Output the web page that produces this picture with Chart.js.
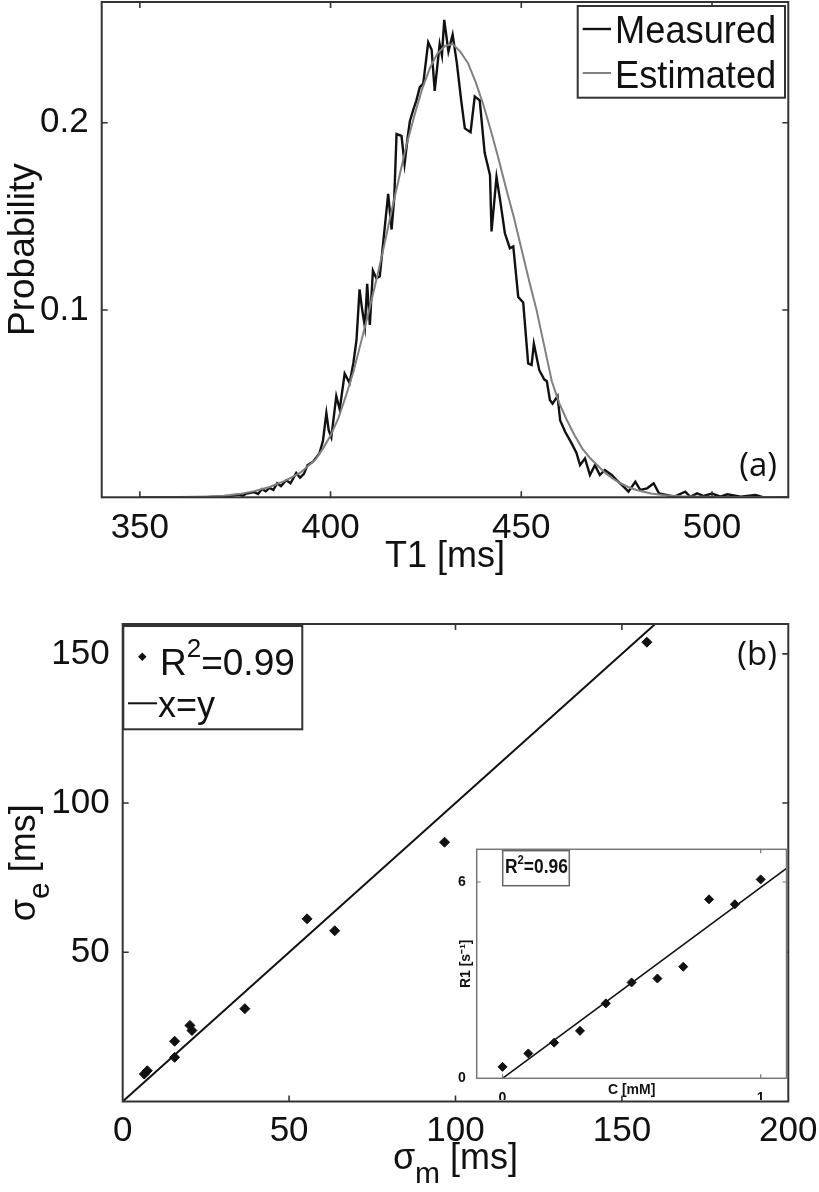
<!DOCTYPE html>
<html><head><meta charset="utf-8">
<script src="https://cdn.jsdelivr.net/npm/chart.js@4/dist/chart.umd.min.js"></script>
<style>
html,body{margin:0;padding:0;background:#fff;}
body{width:819px;height:1192px;position:relative;overflow:hidden;}
canvas{position:absolute;}
#cA{left:0;top:0;} #cB{left:0;top:580px;} #cC{left:440px;top:840px;}
</style></head><body>
<canvas id="cA" width="819" height="580"></canvas>
<canvas id="cB" width="819" height="612"></canvas>
<canvas id="cC" width="370" height="260"></canvas>
<script>
// ---------- data: panel (a) ----------
const measuredT = [
  350, 360, 368, 372, 374, 376, 377, 378, 380, 381,
  382, 383, 384, 385, 386, 387, 388.4, 389.5, 391, 392,
  393, 394, 395.4, 396.5, 397.1, 398, 398.9, 399.5, 400.2, 401.5,
  402.4, 403.7, 405, 406, 406.8, 407.6, 408.3, 409, 409.6, 410.3,
  411.1, 412, 412.9, 414, 415.1, 416, 416.7, 417.3, 418.6, 419.4,
  420.2, 420.8, 421.7, 422.5, 423.4, 424.3, 425.6, 426.5, 427.3, 428.6,
  429.2, 429.8, 430.9, 432, 433.1, 434.3, 435.2, 436.7, 437.8, 439.1,
  440.4, 441.8, 442.2, 443.5, 444.5, 445.7, 447, 447.9, 449.2, 450.5,
  451.8, 452.7, 453.3, 454.7, 456, 456.7, 457.5, 458.2, 459.5, 460.2,
  461.5, 463.2, 464.5, 465.4, 466.7, 468, 469.3, 470.6, 471.9, 473.7,
  475, 476.8, 478.1, 479.9, 481.2, 483, 484.7, 486.1, 488.3, 490,
  493, 494.3, 496.1, 497.8, 500, 502.2, 504, 507.5, 511.4, 513.6,
  520
];
const measuredP = [
  0, 0, 0.0002, 0.0004, 0.0008, 0.0015, 0.0008, 0.002, 0.0028, 0.0018,
  0.0044, 0.0032, 0.005, 0.004, 0.0075, 0.006, 0.0091, 0.0075, 0.013, 0.0105,
  0.0125, 0.0172, 0.019, 0.022, 0.0236, 0.03, 0.045, 0.036, 0.032, 0.054,
  0.047, 0.066, 0.061, 0.072, 0.084, 0.111, 0.1, 0.091, 0.114, 0.092,
  0.121, 0.117, 0.118, 0.14, 0.162, 0.143, 0.16, 0.194, 0.193, 0.178,
  0.192, 0.201, 0.207, 0.212, 0.219, 0.221, 0.243, 0.239, 0.217, 0.242,
  0.236, 0.255, 0.238, 0.247, 0.232, 0.211, 0.197, 0.195, 0.214, 0.212,
  0.184, 0.172, 0.142, 0.171, 0.158, 0.141, 0.133, 0.134, 0.107, 0.104,
  0.0715, 0.0707, 0.082, 0.068, 0.063, 0.062, 0.052, 0.05, 0.054, 0.041,
  0.035, 0.0288, 0.0235, 0.0172, 0.0208, 0.0119, 0.0172, 0.0119, 0.0146, 0.0119,
  0.0092, 0.0057, 0.003, 0.0083, 0.0039, 0.0048, 0.0075, 0.0021, 0.0012, 0.0003,
  0.003, 0.0003, 0.0021, 0.0007, 0.002, 0.0003, 0.0016, 0.0003, 0.0012, 0,
  0
];
const estimatedT = [
  350, 360, 364, 368, 372, 376, 380, 384, 388, 392,
  396, 398, 400, 402, 404, 406, 408, 410, 412, 414,
  416, 418, 420, 422, 424, 426, 428, 430, 432, 434,
  436, 438, 440, 442, 444, 446, 448, 450, 452, 454,
  456, 458, 460, 462, 464, 466, 468, 470, 472, 474,
  476, 478, 480, 484, 488, 492, 500, 510, 520
];
const estimatedP = [
  0, 0, 0.0001, 0.0003, 0.0008, 0.0017, 0.0033, 0.0055, 0.0088, 0.013,
  0.020, 0.026, 0.033, 0.042, 0.054, 0.067, 0.083, 0.099, 0.116, 0.134,
  0.153, 0.171, 0.189, 0.204, 0.218, 0.229, 0.237, 0.241, 0.242, 0.238,
  0.232, 0.222, 0.210, 0.196, 0.181, 0.165, 0.150, 0.133, 0.116, 0.100,
  0.081, 0.062, 0.050, 0.041, 0.033, 0.026, 0.021, 0.017, 0.013, 0.010,
  0.0075, 0.0055, 0.004, 0.002, 0.001, 0.0005, 0.0002, 0.0001, 0
];
const t1Ticks = [350, 400, 450, 500];
const probTicks = [0.1, 0.2];

// ---------- data: panel (b) ----------
const sigmaM = [6.5, 7.4, 15.6, 15.6, 20.2, 20.8, 36.7, 55.4, 63.7, 96.7, 157.5];
const sigmaE = [9.2, 10.3, 14.8, 20.2, 25.5, 23.8, 31.1, 61.2, 57.2, 86.9, 153.9];
const identityX = [0, 160];
const identityY = [0, 160];
const sigmaXTicks = [0, 50, 100, 150, 200];
const sigmaYTicks = [0, 50, 100, 150];

// ---------- data: inset ----------
const concC = [0, 0.1, 0.2, 0.3, 0.4, 0.5, 0.6, 0.7, 0.8, 0.9, 1.0];
const r1Values = [0.35, 0.76, 1.09, 1.45, 2.29, 2.93, 3.05, 3.41, 5.47, 5.32, 6.08];
const fitC = [0, 1.1];
const fitR1 = [0, 6.42];
const cTicks = [0, 1];
const r1Ticks = [0, 6];

const toXY = (xs, ys) => xs.map((x, i) => ({x: x, y: ys[i]}));
const FONT = "'Liberation Sans', Arial, sans-serif";
Chart.defaults.font.family = FONT;
Chart.defaults.color = '#111';

function frameTicks(id, color, width, len, tickWidth) {
  return {
    id: id,
    afterDraw(chart) {
      const {ctx, chartArea: a, scales} = chart;
      ctx.save();
      ctx.strokeStyle = color;
      ctx.lineWidth = tickWidth;
      ctx.beginPath();
      scales.x.ticks.forEach(t => {
        const p = scales.x.getPixelForValue(t.value);
        if (p < a.left + 1 || p > a.right - 1) return;
        ctx.moveTo(p, a.bottom); ctx.lineTo(p, a.bottom - len);
        ctx.moveTo(p, a.top); ctx.lineTo(p, a.top + len);
      });
      scales.y.ticks.forEach(t => {
        const p = scales.y.getPixelForValue(t.value);
        if (p < a.top + 1 || p > a.bottom - 1) return;
        ctx.moveTo(a.left, p); ctx.lineTo(a.left + len, p);
        ctx.moveTo(a.right, p); ctx.lineTo(a.right - len, p);
      });
      ctx.stroke();
      ctx.lineWidth = width;
      ctx.strokeRect(a.left, a.top, a.right - a.left, a.bottom - a.top);
      ctx.restore();
    }
  };
}
function setTicks(arr) { return s => { s.ticks = arr.map(v => ({value: v})); }; }
function fixW(w) { return s => { s.width = w; s.paddingTop = 0; s.paddingBottom = 0; s.paddingLeft = 0; s.paddingRight = 0; }; }
function fixH(h) { return s => { s.height = h; s.paddingTop = 0; s.paddingBottom = 0; s.paddingLeft = 0; s.paddingRight = 0; }; }

function condensedText(ctx, txt, x, y, sx) {
  ctx.save(); ctx.translate(x, y); ctx.scale(sx, 1); ctx.fillText(txt, 0, 0); ctx.restore();
  return ctx.measureText(txt).width * sx;
}

// ---------- chart (a) ----------
const annotA = {
  id: 'annotA',
  afterDraw(chart) {
    const ctx = chart.ctx;
    ctx.save();
    ctx.fillStyle = '#fff';
    ctx.fillRect(577.7, 6, 207.3, 91.7);
    ctx.strokeStyle = '#333'; ctx.lineWidth = 2;
    ctx.strokeRect(577.7, 6, 207.3, 91.7);
    ctx.lineWidth = 2.4; ctx.strokeStyle = '#111';
    ctx.beginPath(); ctx.moveTo(582.7, 29); ctx.lineTo(611, 29); ctx.stroke();
    ctx.lineWidth = 2; ctx.strokeStyle = '#808080';
    ctx.beginPath(); ctx.moveTo(582.7, 73); ctx.lineTo(611, 73); ctx.stroke();
    ctx.fillStyle = '#111';
    ctx.font = '39px ' + FONT;
    ctx.textBaseline = 'alphabetic';
    condensedText(ctx, 'Measured', 615, 43.3, 0.93);
    condensedText(ctx, 'Estimated', 615, 88.3, 0.93);
    ctx.font = "33px 'Open Sans', sans-serif";
    ctx.textAlign = 'right';
    ctx.fillText('(a)', 777, 476);
    ctx.restore();
  }
};

new Chart(document.getElementById('cA'), {
  type: 'scatter',
  data: {
    datasets: [
      {label: 'Measured', data: toXY(measuredT, measuredP), showLine: true, pointRadius: 0,
       borderColor: '#111', borderWidth: 2.4, order: 1},
      {label: 'Estimated', data: toXY(estimatedT, estimatedP), showLine: true, pointRadius: 0,
       borderColor: '#808080', borderWidth: 2, order: 0}
    ]
  },
  options: {
    responsive: false, animation: false,
    layout: {padding: {left: 0, top: 2, right: 30.7, bottom: 0}},
    plugins: {legend: {display: false}, tooltip: {enabled: false}},
    scales: {
      x: {type: 'linear', min: 340, max: 520, afterBuildTicks: setTicks(t1Ticks),
          afterFit: fixH(82.7),
          grid: {display: false}, border: {display: false},
          ticks: {padding: 2, maxRotation: 0, autoSkip: false, font: {size: 35}, color: '#111'},
          title: {display: true, text: 'T1 [ms]', font: {size: 36}, color: '#111', padding: {top: 0, bottom: 1.4}}},
      y: {type: 'linear', min: 0, max: 0.2645, afterBuildTicks: setTicks(probTicks),
          afterFit: fixW(101.7),
          grid: {display: false}, border: {display: false},
          ticks: {padding: 5, autoSkip: false, font: {size: 35}, color: '#111', callback: v => v.toFixed(1)},
          title: {display: true, text: 'Probability', font: {size: 37}, color: '#111', padding: {top: 2, bottom: 0}}}
    }
  },
  plugins: [frameTicks('frameA', '#333', 2, 6, 1.6), annotA]
});

// ---------- chart (b) ----------
const OB = 580; // canvas top offset
const annotB = {
  id: 'annotB',
  afterDraw(chart) {
    const ctx = chart.ctx;
    ctx.save();
    // legend
    ctx.fillStyle = '#fff';
    ctx.fillRect(123.3, 626 - OB, 179, 103.3);
    ctx.strokeStyle = '#333'; ctx.lineWidth = 2;
    ctx.strokeRect(123.3, 626 - OB, 179, 103.3);
    ctx.fillStyle = '#111';
    ctx.beginPath();
    const dx = 142.3, dy = 656.7 - OB, r = 4.2;
    ctx.moveTo(dx, dy - r); ctx.lineTo(dx + r, dy); ctx.lineTo(dx, dy + r); ctx.lineTo(dx - r, dy); ctx.closePath(); ctx.fill();
    ctx.textBaseline = 'alphabetic';
    ctx.font = '37px ' + FONT;
    let x = 160;
    ctx.fillText('R', x, 675 - OB); x += ctx.measureText('R').width;
    ctx.font = '26px ' + FONT;
    ctx.fillText('2', x, 657 - OB); x += ctx.measureText('2').width;
    ctx.font = '37px ' + FONT;
    ctx.fillText('=0.99', x, 675 - OB);
    ctx.strokeStyle = '#111'; ctx.lineWidth = 2;
    ctx.beginPath(); ctx.moveTo(128, 703.3 - OB); ctx.lineTo(157, 703.3 - OB); ctx.stroke();
    ctx.font = '36px ' + FONT;
    ctx.fillText('x=y', 158, 717 - OB);
    // panel tag
    ctx.font = "33px 'Open Sans', sans-serif";
    ctx.textAlign = 'right';
    ctx.fillText('(b)', 777, 665 - OB);
    ctx.textAlign = 'left';
    // x-axis title sigma_m [ms]
    ctx.font = '36px ' + FONT;
    const w1 = ctx.measureText('\u03c3').width;
    ctx.font = '30px ' + FONT;
    const w2 = ctx.measureText('m').width;
    ctx.font = '36px ' + FONT;
    const w3 = ctx.measureText(' [ms]').width;
    const cx = (chart.chartArea.left + chart.chartArea.right) / 2;
    let sx = cx - (w1 + w2 + w3) / 2;
    ctx.fillText('\u03c3', sx, 1169 - OB);
    ctx.font = '30px ' + FONT;
    ctx.fillText('m', sx + w1, 1183 - OB);
    ctx.font = '36px ' + FONT;
    ctx.fillText(' [ms]', sx + w1 + w2, 1169 - OB);
    // y-axis title sigma_e [ms]
    ctx.font = '30px ' + FONT;
    const e2 = ctx.measureText('e').width;
    ctx.font = '36px ' + FONT;
    const tot = w1 + e2 + w3;
    const cy = (chart.chartArea.top + chart.chartArea.bottom) / 2;
    ctx.translate(35, cy + tot / 2);
    ctx.rotate(-Math.PI / 2);
    ctx.fillText('\u03c3', 0, 0);
    ctx.font = '30px ' + FONT;
    ctx.fillText('e', w1, 14);
    ctx.font = '36px ' + FONT;
    ctx.fillText(' [ms]', w1 + e2, 0);
    ctx.restore();
  }
};

new Chart(document.getElementById('cB'), {
  type: 'scatter',
  data: {
    datasets: [
      {label: 'R\u00b2=0.99', data: toXY(sigmaM, sigmaE), pointStyle: 'rectRot', pointRadius: 5,
       backgroundColor: '#111', borderColor: '#111', borderWidth: 1, order: 0},
      {label: 'x=y', data: toXY(identityX, identityY), showLine: true, pointRadius: 0,
       borderColor: '#111', borderWidth: 2, order: 1}
    ]
  },
  options: {
    responsive: false, animation: false,
    layout: {padding: {left: 0, top: 44, right: 30.7, bottom: 0}},
    plugins: {legend: {display: false}, tooltip: {enabled: false}},
    scales: {
      x: {type: 'linear', min: 0, max: 200, afterBuildTicks: setTicks(sigmaXTicks),
          afterFit: fixH(90.5),
          grid: {display: false}, border: {display: false},
          ticks: {padding: 1, maxRotation: 0, autoSkip: false, font: {size: 35}, color: '#111'}},
      y: {type: 'linear', min: 0, max: 160, afterBuildTicks: setTicks(sigmaYTicks),
          afterFit: fixW(122.7),
          grid: {display: false}, border: {display: false},
          ticks: {padding: 5, autoSkip: false, font: {size: 35}, color: '#111', callback: v => v === 0 ? '' : String(v)}}
    }
  },
  plugins: [frameTicks('frameB', '#333', 2, 6, 1.6), annotB]
});

// ---------- inset ----------
const OXC = 440, OYC = 840;
const insetBg = {
  id: 'insetBg',
  beforeDraw(chart) {
    const {ctx, chartArea: a} = chart;
    ctx.save(); ctx.fillStyle = '#fff';
    ctx.fillRect(a.left, a.top, a.right - a.left, a.bottom - a.top);
    ctx.restore();
  },
  afterDraw(chart) {
    const ctx = chart.ctx;
    ctx.save();
    const bx = 502.7 - OXC, by = 850.7 - OYC;
    ctx.fillStyle = '#fff'; ctx.fillRect(bx, by, 66.6, 35);
    ctx.strokeStyle = '#666'; ctx.lineWidth = 1.5; ctx.strokeRect(bx, by, 66.6, 35);
    ctx.fillStyle = '#111'; ctx.textBaseline = 'alphabetic';
    ctx.font = 'bold 20px ' + FONT;
    let x = 505 - OXC;
    x += condensedText(ctx, 'R', x, 873 - OYC, 0.87);
    ctx.font = 'bold 13px ' + FONT;
    x += condensedText(ctx, '2', x, 864 - OYC, 0.87);
    ctx.font = 'bold 20px ' + FONT;
    condensedText(ctx, '=0.96', x, 873 - OYC, 0.87);
    ctx.restore();
  }
};

new Chart(document.getElementById('cC'), {
  type: 'scatter',
  data: {
    datasets: [
      {label: 'data', data: toXY(concC, r1Values), pointStyle: 'rectRot', pointRadius: 4.5,
       backgroundColor: '#111', borderColor: '#111', borderWidth: 1, order: 0},
      {label: 'fit', data: toXY(fitC, fitR1), showLine: true, pointRadius: 0,
       borderColor: '#111', borderWidth: 1.6, order: 1}
    ]
  },
  options: {
    responsive: false, animation: false,
    layout: {padding: {left: 0, top: 9.3, right: 23.5, bottom: 0}},
    plugins: {legend: {display: false}, tooltip: {enabled: false}},
    scales: {
      x: {type: 'linear', min: -0.1, max: 1.1, afterBuildTicks: setTicks(cTicks),
          afterFit: fixH(21.7),
          grid: {display: false}, border: {display: false},
          ticks: {padding: 3, maxRotation: 0, autoSkip: false, font: {size: 14, weight: 'bold'}, color: '#111'},
          title: {display: true, text: 'C [mM]', font: {size: 14, weight: 'bold'}, color: '#111', padding: {top: 0, bottom: 1.6}}},
      y: {type: 'linear', min: 0, max: 7, afterBuildTicks: setTicks(r1Ticks),
          afterFit: fixW(36.7),
          grid: {display: false}, border: {display: false},
          ticks: {padding: 3, autoSkip: false, font: {size: 14, weight: 'bold'}, color: '#111'},
          title: {display: true, text: 'R1 [s\u207b\u00b9]', font: {size: 14, weight: 'bold'}, color: '#111', padding: {top: 17.6, bottom: 0}}}
    }
  },
  plugins: [frameTicks('frameC', '#777', 1.5, 4, 1.2), insetBg]
});
</script>
</body></html>
